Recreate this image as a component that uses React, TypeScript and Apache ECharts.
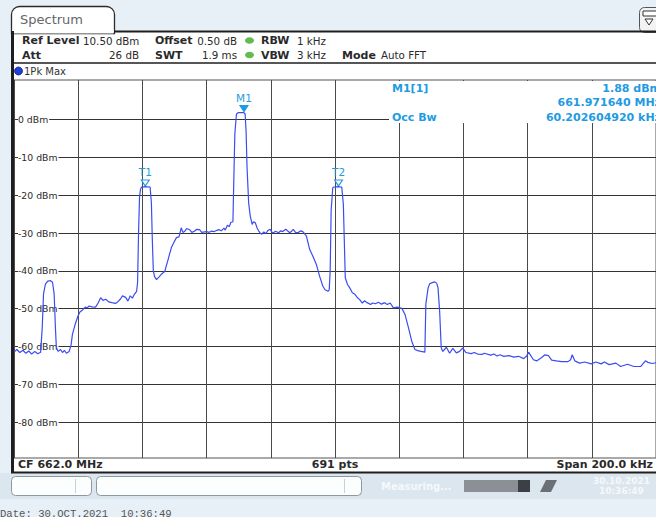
import React, { useEffect, useRef } from "react";
import * as echarts from "echarts";

// Frequency offset from centre frequency (662.0 MHz), kHz
const freqOffsetKHz = [
  -100.0, -99.1, -98.2, -97.2, -96.3, -95.4, -94.5, -93.5, -92.6, -91.7,
  -91.2, -90.8, -90.2, -89.5, -88.6, -88.0, -87.5, -87.1, -86.8, -86.2,
  -85.5, -84.9, -84.3, -83.7, -82.8, -82.2, -81.8, -80.9, -80.0, -79.4,
  -78.7, -77.8, -77.2, -76.6, -75.7, -74.6, -73.8, -73.0, -72.3, -71.4,
  -70.5, -69.5, -68.4, -67.7, -66.9, -66.2, -65.2, -64.5, -63.8, -63.1,
  -62.5, -61.8, -61.5, -61.2, -60.9, -60.6, -60.3, -59.1, -57.6, -57.2,
  -56.9, -56.6, -56.2, -55.6, -54.8, -54.1, -53.0, -52.6, -52.0, -51.0,
  -50.2, -49.4, -48.6, -47.9, -47.4, -46.9, -46.2, -45.3, -44.6, -43.8,
  -43.1, -42.2, -41.5, -40.7, -40.0, -39.2, -38.5, -37.6, -36.9, -36.1,
  -35.4, -34.6, -34.2, -33.5, -32.9, -32.5, -31.8, -31.5, -31.2, -30.7,
  -30.2, -29.2, -28.4, -28.0, -27.7, -27.4, -26.9, -26.4, -25.8, -25.4,
  -24.8, -24.3, -23.8, -23.4, -22.8, -22.2, -21.5, -20.9, -20.2, -19.7,
  -19.2, -18.5, -17.6, -16.9, -16.3, -15.3, -14.8, -14.1, -13.5, -13.0,
  -12.3, -11.5, -11.1, -10.5, -9.8, -8.9, -7.9, -6.9, -5.8, -4.8,
  -3.8, -3.1, -2.2, -1.8, -1.5, -1.2, -0.7, -0.3, 0.9, 2.1,
  2.6, 2.9, 3.2, 3.9, 4.6, 5.4, 6.2, 7.0, 7.7, 8.5,
  9.2, 10.0, 11.1, 11.7, 12.6, 13.5, 14.5, 15.4, 16.3, 17.2,
  18.2, 19.4, 20.8, 21.8, 22.9, 23.9, 24.9, 25.8, 26.8, 28.0,
  28.3, 29.0, 29.5, 30.3, 31.1, 31.7, 32.1, 32.6, 33.1, 33.6,
  34.7, 35.7, 36.7, 37.8, 38.8, 39.8, 40.8, 42.4, 43.4, 44.4,
  45.8, 46.5, 48.5, 49.5, 50.5, 51.4, 52.6, 54.2, 55.7, 57.2,
  58.8, 59.7, 60.3, 60.9, 61.8, 62.9, 64.4, 65.4, 66.5, 67.5,
  69.0, 70.6, 72.6, 73.4, 73.9, 74.7, 76.2, 77.8, 79.8, 81.3,
  82.9, 83.9, 85.4, 87.5, 89.0, 91.1, 93.1, 95.2, 96.7, 97.5,
  98.8, 100.0,
];

// Trace level, dBm (1Pk Max)
const levelDbm = [
  -61.5, -60.8, -61.6, -61.0, -61.8, -61.2, -62.0, -61.3, -61.9, -61.5,
  -55.0, -46.0, -43.5, -42.7, -42.6, -43.0, -46.0, -55.0, -60.4, -61.3,
  -60.8, -61.6, -61.0, -61.8, -61.3, -59.5, -56.8, -54.0, -51.8, -50.8,
  -50.4, -49.6, -49.8, -49.3, -49.5, -49.6, -48.5, -47.1, -47.8, -47.5,
  -48.2, -48.4, -48.6, -48.2, -47.5, -46.6, -47.0, -48.0, -46.6, -47.2,
  -46.2, -45.4, -43.0, -30.0, -20.5, -18.5, -17.8, -17.7, -17.8, -22.0,
  -32.0, -40.0, -41.5, -42.3, -41.6, -40.9, -40.1, -38.8, -37.0, -33.9,
  -32.5, -31.2, -31.0, -28.6, -29.8, -29.6, -28.8, -29.1, -29.8, -29.5,
  -29.0, -29.1, -29.8, -29.7, -29.6, -29.8, -29.5, -29.6, -29.3, -29.1,
  -29.4, -28.7, -29.2, -27.9, -28.3, -27.2, -27.0, -15.0, -3.7, 1.5,
  1.85, 1.88, 1.88, 1.5, -3.0, -12.6, -22.0, -25.5, -27.7, -27.0,
  -27.3, -28.6, -29.4, -29.9, -30.3, -29.7, -30.1, -29.3, -29.0, -29.7,
  -29.9, -29.5, -29.9, -29.4, -29.6, -29.0, -29.4, -29.9, -29.5, -29.0,
  -29.8, -29.9, -29.6, -29.4, -29.8, -30.8, -34.3, -36.1, -38.3, -41.4,
  -44.0, -45.0, -45.4, -45.0, -40.0, -24.0, -18.0, -17.8, -17.7, -17.8,
  -22.4, -32.0, -41.8, -43.6, -44.5, -45.8, -46.2, -47.1, -47.6, -48.5,
  -47.9, -48.4, -48.9, -48.5, -48.7, -48.3, -48.8, -48.4, -48.9, -48.5,
  -49.8, -49.6, -49.9, -51.5, -55.1, -58.6, -60.8, -61.1, -61.3, -61.5,
  -48.8, -44.5, -43.4, -43.1, -42.9, -43.3, -44.5, -50.7, -60.4, -61.3,
  -60.2, -61.8, -60.5, -61.7, -61.3, -60.4, -61.6, -61.9, -61.6, -62.0,
  -62.1, -61.8, -62.3, -62.0, -62.5, -62.2, -62.6, -62.4, -62.8, -62.6,
  -63.2, -62.5, -61.5, -62.3, -63.5, -63.8, -62.9, -62.2, -62.4, -63.6,
  -63.8, -64.0, -64.0, -63.5, -62.2, -63.8, -64.4, -64.1, -64.6, -64.1,
  -64.6, -64.1, -64.8, -64.4, -65.3, -64.7, -65.3, -65.3, -63.8, -64.2,
  -64.5, -64.3,
];

const gridLevels = [0, -10, -20, -30, -40, -50, -60, -70, -80];
const refLevel = 10.5;
const rangeDb = 100;
const spanKHz = 200;
const divKHz = 20;

const markerNames = ["M1", "T1", "T2"];
const markerFreqKHz = [-28.36, -59.1, 1.1];
const markerLevelDbm = [1.88, -17.8, -17.8];
const markerFilled = [true, false, false];

const markerInfoLabels = ["M1[1]", "", "Occ Bw"];
const markerInfoValues = ["1.88 dBm", "661.971640 MHz", "60.202604920 kHz"];

const footerTexts = ["CF 662.0 MHz", "691 pts", "Span 200.0 kHz"];

export default function App() {
  const ref = useRef<HTMLDivElement>(null);

  useEffect(() => {
    document.body.style.margin = "0";
    const chart = echarts.init(ref.current!, null, { renderer: "svg" });
    const FONT = "DejaVu Sans";
    const MARK = "#1e9be2";

    const text = (t: string, x: number, y: number, o: any = {}) => ({
      type: "text",
      x,
      y,
      z: o.z ?? 20,
      style: {
        text: t,
        fill: o.fill ?? "#2a2a2a",
        fontSize: o.size ?? 10.3,
        fontFamily: o.family ?? FONT,
        fontWeight: o.bold ? "bold" : "normal",
        align: o.align ?? "left",
        verticalAlign: "middle",
      },
    });
    const line = (x1: number, y1: number, x2: number, y2: number, stroke: string, w: number, z = 15) => ({
      type: "line",
      z,
      shape: { x1, y1, x2, y2 },
      style: { stroke, lineWidth: w },
    });

    const graphic: any[] = [
      { type: "rect", z: -10, shape: { x: 11, y: 31, width: 645, height: 442 }, style: { fill: "#ffffff" } },
      { type: "rect", z: -10, shape: { x: 0, y: 473, width: 656, height: 26 }, style: { fill: "#dbe6ee" } },
      { type: "rect", z: 14, shape: { x: 11.5, y: 6.5, width: 103, height: 27, r: [8, 8, 0, 0] }, style: { fill: "#fff", stroke: "#2b2b2b", lineWidth: 1.3 } },
      { type: "rect", z: 14, shape: { x: 12.5, y: 29.5, width: 101, height: 4 }, style: { fill: "#fff" } },
      text("Spectrum", 20, 19.5, { size: 13, fill: "#666" }),
      line(114, 31.5, 656, 31.5, "#1e1e1e", 2),
      { type: "rect", z: 14, shape: { x: 639.5, y: 7.5, width: 30, height: 25, r: 5 }, style: { fill: "#f3f3f3", stroke: "#555", lineWidth: 1 } },
      { type: "rect", z: 15, shape: { x: 643, y: 11, width: 14, height: 5 }, style: { fill: "#fff", stroke: "#333", lineWidth: 1 } },
      { type: "polygon", z: 15, shape: { points: [[645, 19], [653, 19], [649, 25]] }, style: { fill: "#fff", stroke: "#333", lineWidth: 1 } },
      text("Ref Level", 22, 40.5, { bold: true, size: 11 }),
      text("10.50 dBm", 83, 40.5),
      text("Offset", 155, 40.5, { bold: true, size: 11 }),
      text("0.50 dB", 237, 40.5, { align: "right" }),
      { type: "ellipse", z: 16, shape: { cx: 249.5, cy: 40.5, rx: 4.5, ry: 3.2 }, style: { fill: "#63bb4c" } },
      text("RBW", 261, 40.5, { bold: true, size: 11 }),
      text("1 kHz", 297, 40.5),
      text("Att", 22, 55, { bold: true, size: 11 }),
      text("26 dB", 139, 55, { align: "right" }),
      text("SWT", 155, 55, { bold: true, size: 11 }),
      text("1.9 ms", 237, 55, { align: "right" }),
      { type: "ellipse", z: 16, shape: { cx: 249.5, cy: 55, rx: 4.5, ry: 3.2 }, style: { fill: "#63bb4c" } },
      text("VBW", 261, 55, { bold: true, size: 11 }),
      text("3 kHz", 297, 55),
      text("Mode", 342, 55, { bold: true, size: 11 }),
      text("Auto FFT", 381, 55),
      line(11, 63, 656, 63, "#1e1e1e", 1.6),
      { type: "circle", z: 16, shape: { cx: 18.5, cy: 71, r: 4 }, style: { fill: "#1f3fd8", stroke: "#0d2290", lineWidth: 0.8 } },
      text("1Pk Max", 24, 71, { size: 10, fill: "#333" }),
      { type: "rect", z: 16, shape: { x: 11, y: 31, width: 3, height: 442 }, style: { fill: "#1e1e1e" } },
      { type: "rect", z: 12, shape: { x: 389, y: 81, width: 270, height: 42 }, style: { fill: "#fff" } },
      text(markerInfoLabels[0], 392, 88.5, { bold: true, size: 11, fill: MARK }),
      text(markerInfoValues[0], 661, 88.5, { bold: true, size: 11, fill: MARK, align: "right" }),
      text(markerInfoValues[1], 661, 102.5, { bold: true, size: 11, fill: MARK, align: "right" }),
      text(markerInfoLabels[2], 392, 117, { bold: true, size: 11, fill: MARK }),
      text(markerInfoValues[2], 661, 117, { bold: true, size: 11, fill: MARK, align: "right" }),
      text(footerTexts[0], 18, 464.5, { bold: true, size: 11 }),
      text(footerTexts[1], 335, 464.5, { bold: true, size: 11, align: "center" }),
      text(footerTexts[2], 653, 464.5, { bold: true, size: 11, align: "right" }),
      line(11, 472.5, 656, 472.5, "#1e1e1e", 2),
      { type: "rect", z: 14, shape: { x: 11.5, y: 476.5, width: 80, height: 19, r: 4 }, style: { fill: "#fcfdfd", stroke: "#8d98a2", lineWidth: 1 } },
      line(75.5, 479, 75.5, 493, "#c9d0d6", 1),
      { type: "rect", z: 14, shape: { x: 96.5, y: 476.5, width: 265, height: 19, r: 4 }, style: { fill: "#fcfdfd", stroke: "#8d98a2", lineWidth: 1 } },
      line(344.5, 479, 344.5, 493, "#c9d0d6", 1),
      text("Measuring...", 381, 486, { size: 10, bold: true, fill: "#f6f9fb" }),
      { type: "rect", z: 14, shape: { x: 464, y: 480, width: 54, height: 12 }, style: { fill: "#8a9096" } },
      { type: "rect", z: 14, shape: { x: 518, y: 480, width: 12, height: 12 }, style: { fill: "#3c4045" } },
      { type: "polygon", z: 14, shape: { points: [[540, 492], [546, 480], [557, 480], [551, 492]] }, style: { fill: "#6a7076" } },
      text("30.10.2021", 593, 481, { size: 9, bold: true, fill: "#f6f9fb" }),
      text("10:36:49", 599, 491, { size: 9, bold: true, fill: "#f6f9fb" }),
      text("Date: 30.OCT.2021  10:36:49", 0, 514, { size: 10.6, family: "Liberation Mono", fill: "#555" }),
    ];

    const markerData = markerNames.map((name, i) => ({
      name,
      coord: [markerFreqKHz[i], markerLevelDbm[i]],
      symbol: "triangle",
      symbolSize: [8, 6],
      symbolRotate: 180,
      symbolOffset: [0, -4],
      itemStyle: {
        color: markerFilled[i] ? MARK : "#ffffff",
        borderColor: MARK,
        borderWidth: 1.1,
      },
      label: {
        show: true,
        position: "top",
        distance: 2,
        formatter: name,
        color: MARK,
        fontSize: 10.5,
        fontFamily: FONT,
      },
    }));

    chart.setOption({
      animation: false,
      backgroundColor: "transparent",
      graphic,
      grid: {
        left: 14,
        top: 80,
        width: 650,
        height: 378,
        show: true,
        backgroundColor: "#ffffff",
        borderColor: "#555",
        borderWidth: 1,
      },
      xAxis: {
        type: "value",
        min: -spanKHz / 2,
        max: spanKHz / 2,
        interval: divKHz,
        axisLine: { show: false },
        axisTick: { show: false },
        axisLabel: { show: false },
        splitLine: { show: true, lineStyle: { color: "#4a4a4a", width: 1 } },
      },
      yAxis: {
        type: "value",
        min: refLevel - rangeDb,
        max: refLevel,
        axisLine: { show: false },
        axisTick: { show: false, customValues: gridLevels },
        axisLabel: {
          inside: true,
          customValues: gridLevels,
          margin: 4,
          formatter: (v: number) => `${v} dBm`,
          color: "#2a2a2a",
          fontSize: 9.3,
          fontFamily: FONT,
          backgroundColor: "#ffffff",
          padding: [1, 1, 1, 0],
        },
        splitLine: { show: true, lineStyle: { color: "#333", width: 1 } },
      },
      series: [
        {
          type: "line",
          data: freqOffsetKHz.map((f, i) => [f, levelDbm[i]]),
          showSymbol: false,
          symbol: "none",
          clip: true,
          lineStyle: { color: "#3b4cf2", width: 1.2 },
          markPoint: { data: markerData, animation: false },
          z: 5,
        },
      ],
    });

    return () => chart.dispose();
  }, []);

  return (
    <div
      ref={ref}
      style={{ position: "absolute", left: 0, top: 0, width: 656, height: 517, background: "#e8f0f7" }}
    />
  );
}
